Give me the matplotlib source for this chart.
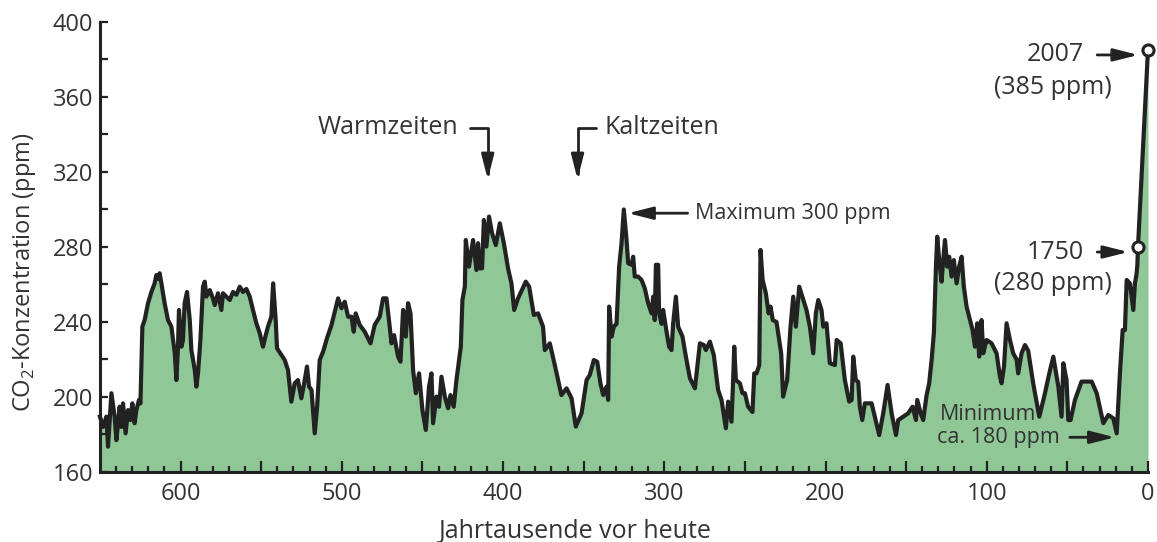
import numpy as np
import matplotlib
matplotlib.use('agg')
import matplotlib.pyplot as plt

plt.rcParams['font.family'] = ['Open Sans', 'DejaVu Sans']
plt.rcParams['mathtext.fontset'] = 'custom'
plt.rcParams['mathtext.rm'] = 'Open Sans'

# thousands of years before present
kyr = [650.0, 648.1, 646.0, 645.0, 642.9, 640.9, 639.8, 637.8, 636.7, 635.7, 634.1, 632.6, 631.2, 629.9,
       628.5, 627.4, 625.8, 624.9, 623.7, 622.3, 620.2, 618.1, 616.1, 615.0, 614.0, 613.0, 611.9, 609.9,
       607.8, 605.7, 603.6, 602.6, 601.6, 601.0, 599.5, 598.5, 597.5, 596.0, 594.3, 593.3, 591.2, 590.2,
       589.2, 587.7, 586.1, 585.0, 584.0, 581.9, 579.9, 578.8, 576.8, 574.7, 573.7, 571.6, 569.5, 567.5,
       565.4, 563.3, 561.3, 559.2, 557.1, 555.1, 553.0, 550.9, 548.9, 547.4, 545.8, 543.7, 542.6, 541.0,
       540.2, 537.5, 535.4, 533.4, 531.3, 529.2, 527.2, 525.1, 523.0, 521.6, 520.3, 518.8, 516.8, 515.3,
       513.7, 511.6, 509.2, 506.4,
       502.3, 500.2, 498.2, 496.1, 494.0, 492.6, 491.4, 488.9, 485.8, 482.2, 479.6, 476.5, 474.4, 472.3,
       470.3, 469.2, 467.6, 465.1, 463.6, 462.0, 460.3, 458.9, 457.4, 455.8, 454.1, 452.1, 450.0, 447.9,
       445.9, 444.4, 443.4, 441.3, 439.7, 438.2, 436.1, 434.1, 432.6, 430.6, 428.9, 427.3, 426.2, 425.2,
       423.7, 423.1, 421.1, 418.6, 416.5, 415.5, 414.4, 413.0, 411.9, 410.3, 408.7, 406.8, 404.5, 402.0,
       399.5, 396.9, 394.8, 393.1, 390.7, 385.9, 383.8, 380.9, 378.3, 375.2, 374.1, 371.0, 367.9, 363.8,
       360.6, 357.5, 354.9,
       351.3, 348.2, 346.2, 343.7, 341.6, 339.6, 337.9, 335.8, 334.8, 334.2, 332.7, 331.3, 329.6, 328.0,
       326.5, 325.1, 323.4, 322.4, 320.3, 319.3, 318.3, 316.2, 314.1, 312.1, 310.0, 307.9, 306.9, 305.9,
       305.2, 303.8, 303.2, 301.7, 300.7, 298.6, 297.0, 295.5, 294.5, 292.8, 291.4, 288.7, 286.6, 284.1,
       281.0, 277.9, 275.5, 274.2, 271.7, 269.3, 266.6, 264.5, 263.5, 261.8, 260.4, 258.3, 257.3, 256.6,
       255.6, 253.1, 251.5, 250.0, 248.0, 245.3, 244.2, 242.8, 241.1, 240.3, 239.0, 237.0, 235.3, 234.1,
       232.7, 230.4, 227.5, 226.3, 223.8, 221.7, 220.0, 218.4, 216.3,
       211.8, 209.7, 207.6, 206.0, 204.5, 202.5, 201.4, 199.4, 197.3, 194.2, 193.1, 190.6, 188.0, 185.3,
       183.8, 182.8, 181.2, 179.7, 178.7, 177.2, 175.6, 171.4, 169.4, 166.7, 164.2, 161.5, 159.0, 156.3,
       154.9, 151.8, 148.7, 146.0, 143.9, 143.1, 141.0, 139.4, 137.3, 135.7, 134.2, 132.8, 131.5, 130.7,
       129.5, 128.0, 127.0, 125.9, 124.5, 123.3, 121.8, 120.4, 118.7, 117.1, 115.6, 114.2, 112.5, 110.4,
       108.8, 107.3, 105.9, 104.7, 103.2, 102.2, 100.1, 97.0, 93.9, 91.8, 90.8, 89.3, 87.7, 85.6,
       83.6, 81.5, 80.5, 78.4, 76.3, 74.3, 71.2, 67.4, 63.9, 61.2,
       58.7, 55.6, 53.6, 52.5, 50.5, 49.4, 48.0, 45.3, 41.2, 34.9, 31.8, 27.7, 24.6, 21.5,
       19.4, 17.4, 15.7, 14.3, 13.2, 11.2, 9.1, 8.1, 7.2, 6.6, 6.2, 0.0]

co2 = [189.5, 184.0, 189.5, 173.5, 202.0, 189.5, 177.0, 194.8, 184.0, 196.6, 180.6, 193.0, 187.7, 196.6,
       186.0, 193.0, 198.4, 196.6, 237.5, 241.0, 250.0, 256.0, 260.6, 265.0, 263.0, 266.0, 260.6, 250.0,
       241.0, 237.5, 223.3, 209.0, 226.8, 246.4, 226.8, 230.4, 250.0, 256.0, 241.0, 225.0, 214.4, 205.5,
       212.6, 230.4, 258.8, 261.5, 253.5, 257.0, 252.5, 249.0, 255.3, 246.4, 255.3, 253.5, 251.7, 256.0,
       254.5, 258.8, 256.0, 257.6, 253.5, 246.4, 239.3, 234.0, 226.8, 232.2, 237.5, 242.8, 260.6, 241.0,
       226.0, 222.4, 219.7, 214.4, 197.5, 207.3, 209.0, 199.3, 209.0, 216.2, 205.5, 203.7, 180.6, 194.8,
       219.7, 224.2, 231.3, 238.4,
       252.6, 247.3, 250.8, 242.8, 242.8, 234.8, 244.6, 238.4, 234.8, 228.6, 238.4, 242.8, 252.6, 252.6,
       237.5, 228.6, 233.0, 221.5, 218.8, 246.4, 232.2, 250.0, 244.6, 214.4, 202.0, 212.6, 193.0, 182.4,
       205.5, 212.6, 186.0, 200.2, 194.8, 210.8, 200.2, 194.0, 201.0, 194.8, 209.0, 219.7, 226.8, 251.7,
       258.8, 283.7, 269.5, 283.7, 267.7, 282.0, 268.6, 268.6, 294.4, 280.2, 296.2, 287.3, 281.0, 292.6,
       282.0, 268.6, 260.6, 246.4, 252.6, 261.5, 258.8, 243.7, 244.6, 237.5, 225.0, 228.6, 217.0, 201.0,
       204.6, 199.3, 184.2,
       191.3, 209.0, 211.7, 219.7, 218.8, 207.3, 201.0, 205.5, 198.4, 248.2, 232.2, 237.5, 239.0, 269.5,
       282.0, 300.0, 283.7, 271.3, 270.5, 274.8, 264.2, 264.2, 262.4, 258.0, 250.0, 244.6, 253.5, 241.0,
       270.5, 270.5, 244.6, 239.0, 246.4, 234.8, 226.8, 225.0, 239.0, 253.5, 237.5, 232.2, 221.5, 210.0,
       204.6, 228.6, 227.7, 225.0, 229.5, 222.4, 203.7, 198.4, 192.9, 183.3, 197.5, 186.8, 209.0, 226.8,
       209.0, 207.3, 202.0, 202.0, 194.8, 192.0, 212.6, 212.6, 217.0, 278.4, 262.4, 255.3, 244.6, 248.2,
       241.0, 240.0, 223.3, 200.2, 209.0, 237.5, 253.5, 237.5, 258.8,
       246.4, 237.5, 223.3, 244.6, 251.7, 246.4, 237.5, 239.3, 218.0, 217.0, 230.4, 228.6, 209.0, 197.5,
       198.4, 221.5, 209.0, 208.0, 194.8, 187.7, 196.6, 196.6, 189.5, 179.7, 191.3, 206.4, 191.3, 179.7,
       187.7, 189.5, 191.3, 194.8, 187.7, 198.4, 191.3, 187.7, 201.0, 207.3, 219.7, 234.0, 269.5, 285.5,
       273.0, 261.5, 273.0, 283.7, 269.5, 274.8, 264.2, 273.0, 260.6, 269.5, 274.8, 258.8, 248.2, 241.0,
       235.7, 226.8, 239.3, 221.5, 241.0, 223.3, 230.4, 228.6, 223.3, 210.8, 207.3, 216.2, 239.3, 230.4,
       223.3, 220.0, 212.6, 223.3, 227.7, 224.7, 207.3, 189.5, 202.0, 212.6,
       221.5, 205.5, 189.5, 218.0, 209.0, 187.7, 187.7, 198.4, 208.2, 208.2, 202.0, 186.0, 190.4, 188.6,
       180.6, 212.6, 235.7, 235.7, 262.4, 260.6, 246.4, 260.6, 265.0, 270.0, 280.0, 385.0]

# marked points (1750 and 2007)
mark_kyr = [6.2, 0.0]
mark_co2 = [280.0, 385.0]
mark_year = ['1750', '2007']
mark_ppm = ['(280 ppm)', '(385 ppm)']

x_ticks = [0, 50, 100, 150, 200, 250, 300, 350, 400, 450, 500, 550, 600]
x_ticklabels = ['0', '', '100', '', '200', '', '300', '', '400', '', '500', '', '600']
y_ticks = [160, 200, 240, 280, 320, 360, 400]

text_color = '#333333'
line_color = '#222222'
fill_color = '#8fc797'

fig = plt.figure(figsize=(11.57, 5.42), dpi=100)
ax = fig.add_axes([0.0864, 0.1292, 0.9058, 0.8303])

ax.fill_between(kyr, co2, 160, color=fill_color, lw=0, zorder=1)
ax.plot(kyr, co2, color=line_color, lw=3.0, zorder=2, clip_on=False)
ax.plot(mark_kyr, mark_co2, 'o', ms=8, mfc='white', mec=line_color, mew=2.2, zorder=3, clip_on=False)

ax.set_xlim(650, 0)
ax.set_ylim(160, 400)

ax.set_xticks(x_ticks, x_ticklabels)
ax.set_xticks(np.arange(10, 650, 10), minor=True)
ax.set_yticks(y_ticks)
ax.set_yticks(np.arange(180, 400, 40), minor=True)

for s in ['top', 'right']:
    ax.spines[s].set_visible(False)
for s in ['left', 'bottom']:
    ax.spines[s].set_linewidth(2.2)
    ax.spines[s].set_color(line_color)
    ax.spines[s].set_zorder(4)

ax.tick_params(axis='x', which='major', direction='in', length=8, width=1.6, color=line_color,
               labelsize=17, labelcolor=text_color, pad=7)
ax.tick_params(axis='x', which='minor', direction='in', length=4.5, width=1.6, color=line_color)
ax.tick_params(axis='y', which='both', direction='in', length=6, width=1.6, color=line_color,
               labelsize=17, labelcolor=text_color, pad=5)

ax.set_xlabel('Jahrtausende vor heute', fontsize=18, color=text_color, va='center')
ax.xaxis.set_label_coords(0.454, -0.132)
ax.set_ylabel(r'CO$_\mathregular{2}$-Konzentration (ppm)', fontsize=17, color=text_color, va='center')
ax.yaxis.set_label_coords(-0.0716, 0.444)

arrow = dict(arrowstyle='-|>,head_length=1.5,head_width=0.38', color=line_color, lw=2,
             shrinkA=0, shrinkB=0, mutation_scale=10)

# warm / cold periods
ax.text(428, 343.5, 'Warmzeiten', fontsize=18, color=text_color, ha='right', va='center')
ax.annotate('', xy=(409.5, 316), xytext=(420.6, 343.5),
            arrowprops=dict(arrow, connectionstyle='angle,angleA=0,angleB=90,rad=0'))
ax.text(337, 343.5, 'Kaltzeiten', fontsize=18, color=text_color, ha='left', va='center')
ax.annotate('', xy=(353.8, 316), xytext=(342.6, 343.5),
            arrowprops=dict(arrow, connectionstyle='angle,angleA=180,angleB=90,rad=0'))

# maximum / minimum
ax.text(281, 298, 'Maximum 300 ppm', fontsize=15.5, color=text_color, ha='left', va='center')
ax.annotate('', xy=(322.5, 298), xytext=(285.5, 298), arrowprops=arrow)
ax.text(129, 190.5, 'Minimum', fontsize=15.5, color=text_color, ha='left', va='center')
ax.text(131, 178.5, 'ca. 180 ppm', fontsize=15.5, color=text_color, ha='left', va='center')
ax.annotate('', xy=(20.5, 178.5), xytext=(48.5, 178.5), arrowprops=arrow)

# 1750 and 2007 labels
label_y = [(277.3, 260.3), (382.4, 364.8)]
for (y1, y2), year, ppm, mk in zip(label_y, mark_year, mark_ppm, mark_kyr):
    ax.text(39.5, y1, year, fontsize=18, color=text_color, ha='right', va='center')
    ax.text(22.5, y2, ppm, fontsize=18, color=text_color, ha='right', va='center')
    ax.annotate('', xy=(mk + 6.0, y1), xytext=(31.5, y1), arrowprops=arrow)

fig.savefig('out.png', dpi=100)
